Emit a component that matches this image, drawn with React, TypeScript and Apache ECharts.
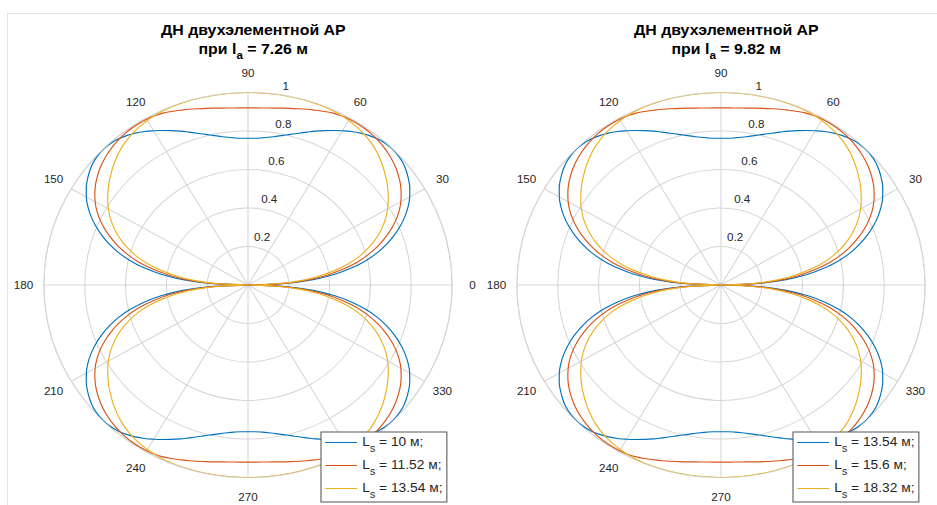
import React, { useEffect, useRef } from "react";
import * as echarts from "echarts";

// Angles (degrees) of the first quadrant at which the curves were read
const quarterAngles = [
  0, 2.5, 5, 7.5, 10, 12.5, 15, 17.5, 20, 22.5, 25, 27.5, 30, 32.5, 35, 37.5, 40, 42.5, 45,
  47.5, 50, 52.5, 55, 57.5, 60, 62.5, 65, 67.5, 70, 72.5, 75, 77.5, 80, 82.5, 85, 87.5, 90,
];

// Angle tick labels shown round each plot
const angleTicks = [0, 30, 60, 90, 120, 150, 180, 210, 240, 270, 300, 330];

// Left plot: l_a = 7.26 m
const leftLa = "7.26";
const leftLs = ["10", "11.52", "13.54"];
const leftCurve1 = [
  0, 0.18, 0.32, 0.43, 0.52, 0.595, 0.66, 0.715, 0.765, 0.81, 0.85, 0.885, 0.915, 0.94, 0.96, 0.977, 0.99, 0.997, 1.0,
  0.997, 0.99, 0.978, 0.963, 0.945, 0.925, 0.905, 0.885, 0.865, 0.845, 0.827, 0.81, 0.796, 0.784, 0.774, 0.767, 0.763, 0.762,
];
const leftCurve2 = [
  0, 0.16, 0.29, 0.39, 0.475, 0.55, 0.61, 0.665, 0.715, 0.76, 0.8, 0.835, 0.865, 0.89, 0.912, 0.93, 0.946, 0.959, 0.97,
  0.979, 0.986, 0.991, 0.994, 0.995, 0.994, 0.991, 0.985, 0.976, 0.966, 0.957, 0.948, 0.94, 0.933, 0.927, 0.923, 0.921, 0.92,
];
const leftCurve3 = [
  0, 0.14, 0.26, 0.35, 0.43, 0.5, 0.56, 0.61, 0.655, 0.695, 0.73, 0.762, 0.79, 0.815, 0.838, 0.86, 0.88, 0.9, 0.918,
  0.935, 0.95, 0.962, 0.972, 0.98, 0.987, 0.992, 0.996, 0.998, 0.999, 1.0, 1.0, 1.0, 1.0, 1.0, 1.0, 1.0, 1.0,
];

// Right plot: l_a = 9.82 m (its curves read the same as the left plot's)
const rightLa = "9.82";
const rightLs = ["13.54", "15.6", "18.32"];
const rightCurve1 = [
  0, 0.18, 0.32, 0.43, 0.52, 0.595, 0.66, 0.715, 0.765, 0.81, 0.85, 0.885, 0.915, 0.94, 0.96, 0.977, 0.99, 0.997, 1.0,
  0.997, 0.99, 0.978, 0.963, 0.945, 0.925, 0.905, 0.885, 0.865, 0.845, 0.827, 0.81, 0.796, 0.784, 0.774, 0.767, 0.763, 0.762,
];
const rightCurve2 = [
  0, 0.16, 0.29, 0.39, 0.475, 0.55, 0.61, 0.665, 0.715, 0.76, 0.8, 0.835, 0.865, 0.89, 0.912, 0.93, 0.946, 0.959, 0.97,
  0.979, 0.986, 0.991, 0.994, 0.995, 0.994, 0.991, 0.985, 0.976, 0.966, 0.957, 0.948, 0.94, 0.933, 0.927, 0.923, 0.921, 0.92,
];
const rightCurve3 = [
  0, 0.14, 0.26, 0.35, 0.43, 0.5, 0.56, 0.61, 0.655, 0.695, 0.73, 0.762, 0.79, 0.815, 0.838, 0.86, 0.88, 0.9, 0.918,
  0.935, 0.95, 0.962, 0.972, 0.98, 0.987, 0.992, 0.996, 0.998, 0.999, 1.0, 1.0, 1.0, 1.0, 1.0, 1.0, 1.0, 1.0,
];

const colors = ["#0072BD", "#D95319", "#EDB120"];
const gridColor = "#d6d6d6";
const textColor = "#262626";
const FONT = "'Liberation Sans', Arial, Helvetica, sans-serif";

// The reference figure is stretched horizontally; the chart is drawn narrower and scaled in x.
const STRETCH = 1.06;
const W = 937;
const H = 505;
const WI = Math.round(W / STRETCH);

// Mirror a first-quadrant pattern to the full turn (pattern symmetric about both axes)
function fullTurn(v: number[]): [number, number][] {
  const n = quarterAngles.length - 1;
  const out: [number, number][] = [];
  for (let j = 0; j <= n; j++) out.push([v[j], quarterAngles[j]]);
  for (let j = n - 1; j >= 0; j--) out.push([v[j], 180 - quarterAngles[j]]);
  for (let j = 1; j <= n; j++) out.push([v[j], 180 + quarterAngles[j]]);
  for (let j = n - 1; j >= 0; j--) out.push([v[j], 360 - quarterAngles[j]]);
  return out;
}

const CX_L = 248 / STRETCH;
const CX_R = 721 / STRETCH;
const CY = 285;
const R = 192.5;
const LABEL_R = 1.1; // angle labels sit just outside the unit ring

const borderGraphic = {
  type: "rect",
  shape: { x: 7.5 / STRETCH, y: 13.5, width: 2000, height: 2000 },
  style: { fill: "none", stroke: "#e6e4de", lineWidth: 1 },
  silent: true,
  z: -1,
};

function buildOption() {
  const polar = [
    { center: [CX_L, CY], radius: R },
    { center: [CX_L, CY], radius: R },
    { center: [CX_R, CY], radius: R },
    { center: [CX_R, CY], radius: R },
  ];
  const mainAngle = (idx: number) => ({
    polarIndex: idx,
    type: "value",
    min: 0,
    max: 360,
    interval: 30,
    startAngle: 0,
    clockwise: false,
    axisLine: { show: true, lineStyle: { color: gridColor, width: 1 } },
    axisTick: { show: false },
    axisLabel: { show: false },
    splitLine: { show: true, lineStyle: { color: gridColor, width: 1 } },
  });
  const labelAngle = (idx: number) => ({
    polarIndex: idx,
    type: "value",
    min: 0,
    max: 360,
    startAngle: 80,
    clockwise: false,
    show: false,
  });
  const mainRadius = (idx: number) => ({
    polarIndex: idx,
    type: "value",
    min: 0,
    max: 1,
    interval: 0.2,
    axisLine: { show: false },
    axisTick: { show: false },
    axisLabel: { show: false },
    splitLine: { show: true, lineStyle: { color: gridColor, width: 1 } },
  });
  const labelRadius = (idx: number) => ({
    polarIndex: idx,
    type: "value",
    min: 0,
    max: 1,
    interval: 0.2,
    axisLine: { show: false },
    axisTick: { show: false },
    splitLine: { show: false },
    axisLabel: {
      show: true,
      showMinLabel: false,
      margin: 1,
      align: "left",
      verticalAlign: "bottom",
      padding: [0, 0, 4, 0],
      fontSize: 11,
      fontFamily: FONT,
      color: textColor,
    },
  });

  const leftNames = leftLs.map((v) => "A" + v);
  const rightNames = rightLs.map((v) => "B" + v);
  const legendFmt = (name: string) => `{t|L}{s|s}{t| = ${name.slice(1)} м;}`;
  const legendRich = {
    t: { fontSize: 13, fontFamily: FONT, color: textColor, lineHeight: 15, verticalAlign: "top" },
    s: { fontSize: 10, fontFamily: FONT, color: textColor, lineHeight: 10, padding: [9, 0, 0, 0], verticalAlign: "top" },
  };
  const legend = (left: number, names: string[]) => ({
    orient: "vertical",
    left,
    top: 432,
    data: names,
    formatter: legendFmt,
    selectedMode: false,
    icon: "rect",
    itemWidth: 30,
    itemHeight: 1,
    itemGap: 4,
    padding: [3, 4, 2, 4],
    backgroundColor: "#ffffff",
    borderColor: "#555555",
    borderWidth: 1,
    borderRadius: 0,
    textStyle: { fontSize: 13, fontFamily: FONT, color: textColor, rich: legendRich },
  });

  const titleRich = {
    t: { fontSize: 15, fontWeight: "bold", fontFamily: FONT, color: "#000", lineHeight: 19, verticalAlign: "top" },
    s: { fontSize: 11, fontWeight: "bold", fontFamily: FONT, color: "#000", lineHeight: 11, padding: [9, 0, 0, 0], verticalAlign: "top" },
  };
  const title = (x: number, la: string) => ({
    left: x,
    top: 17,
    textAlign: "center",
    text: `{t|ДН двухэлементной АР}\n{t|при l}{s|a}{t| = ${la} м}`,
    textStyle: { fontSize: 15, fontWeight: "bold", fontFamily: FONT, color: "#000", rich: titleRich },
  });

  const mkSeries = (names: string[], curves: number[][], polarIndex: number) =>
    curves.map((c, i) => ({
      name: names[i],
      type: "line",
      coordinateSystem: "polar",
      polarIndex,
      data: fullTurn(c),
      showSymbol: false,
      symbol: "none",
      smooth: 0.4,
      lineStyle: { color: colors[i], width: 1.1 },
      itemStyle: { color: colors[i] },
      z: 3,
    }));

  return {
    animation: false,
    backgroundColor: "#ffffff",
    textStyle: { fontFamily: FONT },
    title: [title(CX_L, leftLa), title(CX_R, rightLa)],
    polar,
    angleAxis: [mainAngle(0), labelAngle(1), mainAngle(2), labelAngle(3)],
    radiusAxis: [mainRadius(0), labelRadius(1), mainRadius(2), labelRadius(3)],
    legend: [legend(321 / STRETCH, leftNames), legend(793 / STRETCH, rightNames)],
    graphic: [borderGraphic],
    series: [
      ...mkSeries(leftNames, [leftCurve1, leftCurve2, leftCurve3], 0),
      ...mkSeries(rightNames, [rightCurve1, rightCurve2, rightCurve3], 2),
    ],
  };
}

export default function App() {
  const ref = useRef<HTMLDivElement>(null);
  useEffect(() => {
    if (!ref.current) return;
    const chart = echarts.init(ref.current, undefined, { renderer: "svg" });
    chart.setOption(buildOption() as any);

    // Angle labels centred just outside the unit ring, positioned through the polar scales
    const angleLabels = (seriesIndex: number, skip: number[]) =>
      angleTicks
        .filter((a) => skip.indexOf(a) < 0)
        .map((a) => {
          const p = chart.convertToPixel({ seriesIndex } as any, [LABEL_R, a]) as number[];
          return {
            type: "text",
            x: p[0],
            y: p[1],
            silent: true,
            style: {
              text: String(a),
              align: "center",
              verticalAlign: "middle",
              fontSize: 11,
              fontFamily: FONT,
              fill: textColor,
            },
          };
        });
    chart.setOption({
      graphic: [borderGraphic, ...angleLabels(0, []), ...angleLabels(3, [0])],
    } as any);
    return () => chart.dispose();
  }, []);
  return (
    <div
      style={{ position: "absolute", left: 0, top: 0, width: W, height: H, overflow: "hidden", background: "#fff" }}
    >
      <div
        ref={ref}
        style={{
          width: WI,
          height: H,
          transform: `scaleX(${STRETCH})`,
          transformOrigin: "0 0",
        }}
      />
    </div>
  );
}
